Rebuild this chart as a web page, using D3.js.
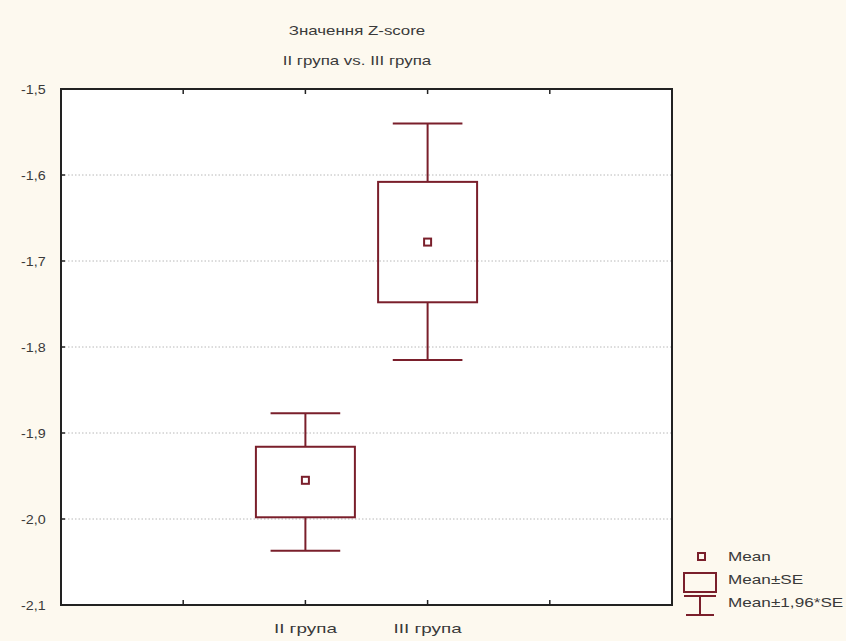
<!DOCTYPE html>
<html>
<head>
<meta charset="utf-8">
<script src="https://cdn.jsdelivr.net/npm/d3@7"></script>
<style>
  html, body { margin: 0; padding: 0; background: #fdf9ef; }
  svg { display: block; }
  text { font-family: "Liberation Sans", "DejaVu Sans", sans-serif; fill: #3a3a3a; }
</style>
</head>
<body>
<svg id="chart" width="846" height="641"></svg>
<script>
// ---- data ----
const titleLines = ["Значення Z-score", "II група vs. III група"];
const categories = ["II група", "III група"];
const means      = [-1.955, -1.678];
const seLow      = [-1.998, -1.748];
const seHigh     = [-1.916, -1.608];
const ciLow      = [-2.037, -1.815];
const ciHigh     = [-1.877, -1.540];
const yTicks     = [-1.5, -1.6, -1.7, -1.8, -1.9, -2.0, -2.1];
const legendLabels = ["Mean", "Mean±SE", "Mean±1,96*SE"];

const color = "#7a1f2b";
const svg = d3.select("#chart");
const m = { left: 61, right: 672, top: 89, bottom: 605 };

const y = d3.scaleLinear().domain([-2.1, -1.5]).range([m.bottom, m.top]);
// slot positions: categories sit at 2 and 3 of 0..5
const x = d3.scaleLinear().domain([0, 5]).range([m.left, m.right]);
const catPos = [2, 3];
const slot = x(1) - x(0);

function stretchedText(sel, data, fx, fy, anchor, sx, size) {
  return sel.append("g").selectAll("text").data(data).join("text")
    .attr("transform", (d, i) => `translate(${fx(d, i)},${fy(d, i)}) scale(${sx},1)`)
    .attr("text-anchor", anchor).style("font-size", size + "px").text(d => d);
}

// plot background
svg.append("rect").attr("x", m.left).attr("y", m.top)
  .attr("width", m.right - m.left).attr("height", m.bottom - m.top)
  .attr("fill", "#ffffff");

// grid lines
svg.append("g").selectAll("line").data(yTicks.slice(1, -1)).join("line")
  .attr("x1", m.left).attr("x2", m.right)
  .attr("y1", d => y(d)).attr("y2", d => y(d))
  .attr("stroke", "#b8b8b8").attr("stroke-width", 1)
  .attr("stroke-dasharray", "1.5,2");

// y axis
const yAxis = d3.axisLeft(y).tickValues(yTicks).tickSize(0).tickPadding(14)
  .tickFormat(d => d3.format(".1f")(d).replace(".", ",").replace("−", "-"));
const gy = svg.append("g").attr("transform", `translate(${m.left},0)`).call(yAxis);
gy.select(".domain").remove();
gy.selectAll("text").style("font-size", "13px").attr("fill", "#3a3a3a")
  .attr("transform", "scale(1.1,1)");
// inward tick marks on left axis
svg.append("g").selectAll("line").data(yTicks).join("line")
  .attr("x1", m.left).attr("x2", m.left + 4)
  .attr("y1", d => y(d)).attr("y2", d => y(d))
  .attr("stroke", "#222").attr("stroke-width", 1.5);

// x ticks (top and bottom, inward)
const xTickVals = [1, 2, 3, 4];
svg.append("g").selectAll("line").data(xTickVals).join("line")
  .attr("x1", d => x(d)).attr("x2", d => x(d))
  .attr("y1", m.bottom).attr("y2", m.bottom - 5)
  .attr("stroke", "#222").attr("stroke-width", 1.5);
svg.append("g").selectAll("line").data(xTickVals).join("line")
  .attr("x1", d => x(d)).attr("x2", d => x(d))
  .attr("y1", m.top).attr("y2", m.top + 5)
  .attr("stroke", "#222").attr("stroke-width", 1.5);

// x labels
stretchedText(svg, categories, (d, i) => x(catPos[i]), () => m.bottom + 28, "middle", 1.45, 13);

// frame
svg.append("rect").attr("x", m.left).attr("y", m.top)
  .attr("width", m.right - m.left).attr("height", m.bottom - m.top)
  .attr("fill", "none").attr("stroke", "#222").attr("stroke-width", 2);

// boxes
const boxW = slot * 0.81, capW = slot * 0.57;
const g = svg.append("g").attr("stroke", color).attr("stroke-width", 2).attr("fill", "none");
categories.forEach((c, i) => {
  const cx = x(catPos[i]);
  g.append("line").attr("x1", cx).attr("x2", cx).attr("y1", y(ciHigh[i])).attr("y2", y(seHigh[i]));
  g.append("line").attr("x1", cx).attr("x2", cx).attr("y1", y(seLow[i])).attr("y2", y(ciLow[i]));
  g.append("line").attr("x1", cx - capW / 2).attr("x2", cx + capW / 2).attr("y1", y(ciHigh[i])).attr("y2", y(ciHigh[i]));
  g.append("line").attr("x1", cx - capW / 2).attr("x2", cx + capW / 2).attr("y1", y(ciLow[i])).attr("y2", y(ciLow[i]));
  g.append("rect").attr("x", cx - boxW / 2).attr("y", y(seHigh[i]))
    .attr("width", boxW).attr("height", y(seLow[i]) - y(seHigh[i]));
  g.append("rect").attr("x", cx - 3.5).attr("y", y(means[i]) - 3.5)
    .attr("width", 7).attr("height", 7);
});

// title
stretchedText(svg, titleLines, () => 357, (d, i) => 35 + i * 30, "middle", 1.3, 13);

// legend
const lg = svg.append("g");
lg.append("rect").attr("x", 698).attr("y", 553).attr("width", 7).attr("height", 7)
  .attr("fill", "none").attr("stroke", color).attr("stroke-width", 2);
lg.append("rect").attr("x", 684).attr("y", 573).attr("width", 32).attr("height", 19)
  .attr("fill", "none").attr("stroke", color).attr("stroke-width", 2);
lg.append("line").attr("x1", 684).attr("x2", 716).attr("y1", 596).attr("y2", 596)
  .attr("stroke", color).attr("stroke-width", 2);
lg.append("line").attr("x1", 700).attr("x2", 700).attr("y1", 596).attr("y2", 615)
  .attr("stroke", color).attr("stroke-width", 2);
lg.append("line").attr("x1", 686).attr("x2", 714).attr("y1", 615).attr("y2", 615)
  .attr("stroke", color).attr("stroke-width", 2);
stretchedText(lg, legendLabels, () => 728, (d, i) => 561 + i * 23, "start", 1.32, 13);
</script>
</body>
</html>
